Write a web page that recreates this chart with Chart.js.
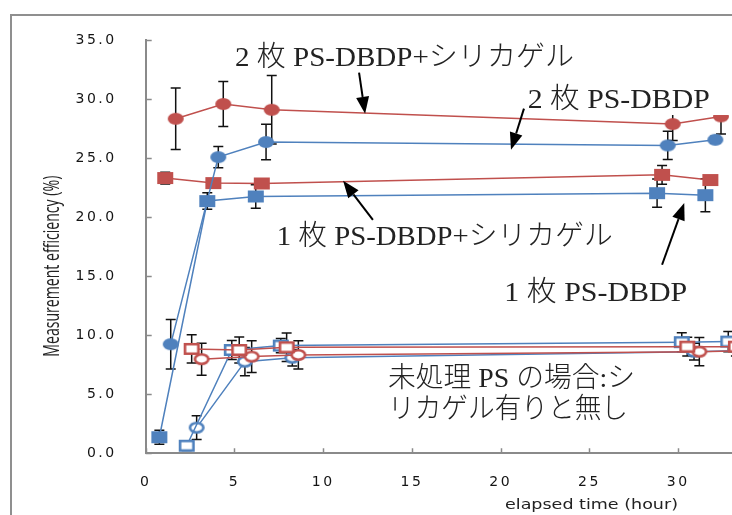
<!DOCTYPE html>
<html>
<head>
<meta charset="utf-8">
<script src="https://cdn.jsdelivr.net/npm/chart.js@4/dist/chart.umd.min.js"></script>
<style>
  html, body { margin: 0; padding: 0; background: #fff; }
  canvas { display: block; }
</style>
</head>
<body>
<canvas id="chart" width="732" height="515"></canvas>
<script>
// ---- measured values: elapsed time (hour), efficiency (%), error (±) ----
const timeTwoSilica = [1.69, 4.37, 7.10, 29.69, 32.41];
const effTwoSilica  = [28.33, 29.58, 29.09, 27.88, 28.53];
const errTwoSilica  = [2.6, 1.9, 2.9, 1.4, 1.5];

const timeTwo = [1.41, 4.09, 6.78, 29.41, 32.09];
const effTwo  = [9.24, 25.08, 26.36, 26.07, 26.55];
const errTwo  = [2.1, 0.9, 1.5, 1.2, 0.3];

const timeOneSilica = [1.10, 3.81, 6.54, 29.09, 31.81];
const effOneSilica  = [23.31, 22.88, 22.85, 23.58, 23.14];
const errOneSilica  = [0.5, 0.2, 0.3, 0.8, 0.2];

const timeOne = [0.77, 3.47, 6.20, 28.81, 31.53];
const effOne  = [1.36, 21.36, 21.75, 22.03, 21.86];
const errOne  = [0.6, 0.7, 1.0, 1.2, 1.4];

// untreated PS, with / without silica gel
const timeRawSqRed = [2.59, 5.27, 7.94, 30.51, 33.25];
const effRawSqRed  = [8.84, 8.75, 8.98, 9.03, 9.03];
const errRawSqRed  = [1.2, 1.1, 1.2, 0.8, 0.8];

const timeRawCirRed = [3.15, 5.97, 8.60, 31.19, 33.8];
const effRawCirRed  = [7.97, 8.19, 8.33, 8.61, 8.7];
const errRawCirRed  = [1.35, 1.35, 1.2, 1.2, 1.2];

const timeRawSqBlue = [2.31, 4.85, 7.61, 30.20, 32.82];
const effRawSqBlue  = [0.64, 8.75, 9.12, 9.41, 9.46];
const errRawSqBlue  = [0.4, 0.8, 0.6, 0.8, 0.85];

const timeRawCirBlue = [2.87, 5.59, 8.26, 30.89, 33.6];
const effRawCirBlue  = [2.17, 7.76, 8.10, 8.61, 8.7];
const errRawCirBlue  = [1.0, 1.2, 0.7, 0.7, 0.7];

const yTicks = [0, 5, 10, 15, 20, 25, 30, 35];
const xTicks = [0, 5, 10, 15, 20, 25, 30];

const yTitle = 'Measurement efficiency (%)';
const xTitle = 'elapsed time (hour)';

// ---- styling ----
const RED = '#C0504D';
const BLUE = '#4F81BD';
const AXIS = '#8a8a8a';
const INK = '#222';
const LABEL_FONT = "300 28px 'Liberation Serif', 'Noto Sans CJK JP'";

// callouts placed in data units; width is the rendered text width in px
const callouts = [
  { text: '2 枚 PS-DBDP+シリカゲル', x: 5.03, y: 32.76, width: 339,
    arrow: [12.02, 32.23, 12.36, 28.75] },
  { text: '2 枚 PS-DBDP', x: 21.52, y: 29.24, width: 182, box: true,
    arrow: [21.31, 29.19, 20.58, 25.71] },
  { text: '1 枚 PS-DBDP+シリカゲル', x: 7.38, y: 17.65, width: 336,
    arrow: [12.8, 19.77, 11.12, 23.08] },
  { text: '1 枚 PS-DBDP', x: 20.20, y: 12.91, width: 183,
    arrow: [29.09, 15.97, 30.34, 21.19] },
  { text: '未処理 PS の場合:シ', x: 13.65, y: 5.64, width: 247 },
  { text: 'リカゲル有りと無し', x: 13.65, y: 2.97, width: 240 }
];

function marker(shape, color, filled) {
  const w = 16, h = 12;
  const c = document.createElement('canvas');
  c.width = w + 2; c.height = h + 2;
  const g = c.getContext('2d');
  g.translate(1, 1);
  const inset = filled ? 0 : 1.3;
  g.beginPath();
  if (shape === 'circle') {
    g.ellipse(w / 2, h / 2, w / 2 - inset, h / 2 - inset, 0, 0, Math.PI * 2);
  } else {
    g.rect(inset, inset, w - 2 * inset, h - 2 * inset);
  }
  if (filled) {
    g.fillStyle = color; g.fill();
  } else {
    g.fillStyle = '#fff'; g.fill();
    g.lineWidth = 2.6; g.strokeStyle = color; g.stroke();
  }
  return c;
}

function pts(xs, ys) { return xs.map((x, i) => ({ x: x, y: ys[i] })); }

function series(label, xs, ys, errs, color, shape, filled) {
  return {
    label: label,
    data: pts(xs, ys),
    errors: errs,
    showLine: true,
    borderColor: color,
    borderWidth: 1.5,
    backgroundColor: color,
    pointStyle: marker(shape, color, filled),
    pointRadius: 8,
    pointHoverRadius: 8,
    tension: 0,
    clip: { left: 10, top: 10, right: 10, bottom: 10 }
  };
}

const datasets = [
  series('2枚 PS-DBDP+シリカゲル', timeTwoSilica, effTwoSilica, errTwoSilica, RED, 'circle', true),
  series('2枚 PS-DBDP', timeTwo, effTwo, errTwo, BLUE, 'circle', true),
  series('1枚 PS-DBDP+シリカゲル', timeOneSilica, effOneSilica, errOneSilica, RED, 'rect', true),
  series('1枚 PS-DBDP', timeOne, effOne, errOne, BLUE, 'rect', true),
  series('未処理 PS 四角 赤', timeRawSqRed, effRawSqRed, errRawSqRed, RED, 'rect', false),
  series('未処理 PS 丸 赤', timeRawCirRed, effRawCirRed, errRawCirRed, RED, 'circle', false),
  series('未処理 PS 四角 青', timeRawSqBlue, effRawSqBlue, errRawSqBlue, BLUE, 'rect', false),
  series('未処理 PS 丸 青', timeRawCirBlue, effRawCirBlue, errRawCirBlue, BLUE, 'circle', false)
];

function fitText(ctx, text, x, y, width, font, rotate) {
  ctx.save();
  ctx.letterSpacing = '0px';
  ctx.font = font;
  const w = ctx.measureText(text).width;
  ctx.translate(x, y);
  if (rotate) ctx.rotate(-Math.PI / 2);
  ctx.scale(width / w, 1);
  ctx.textAlign = 'left';
  ctx.textBaseline = 'alphabetic';
  ctx.fillStyle = INK;
  ctx.fillText(text, 0, 0);
  ctx.restore();
}

function drawArrow(ctx, x1, y1, x2, y2) {
  const a = Math.atan2(y2 - y1, x2 - x1), L = 17, H = 6.5;
  const bx = x2 - L * Math.cos(a), by = y2 - L * Math.sin(a);
  ctx.beginPath();
  ctx.moveTo(x1, y1); ctx.lineTo(bx, by);
  ctx.stroke();
  ctx.beginPath();
  ctx.moveTo(x2, y2);
  ctx.lineTo(bx + H * Math.sin(a), by - H * Math.cos(a));
  ctx.lineTo(bx - H * Math.sin(a), by + H * Math.cos(a));
  ctx.closePath();
  ctx.fill();
}

const decor = {
  id: 'decor',
  beforeDraw(chart) {
    const ctx = chart.ctx;
    ctx.save();
    ctx.fillStyle = '#fff';
    ctx.fillRect(0, 0, chart.width, chart.height);
    ctx.strokeStyle = '#8f8f8f';
    ctx.lineWidth = 2;
    ctx.strokeRect(11, 15, 900, 700);
    ctx.restore();
    // spaced-out tick labels
    ctx.letterSpacing = '2.5px';
  },
  beforeDatasetsDraw(chart) {
    const ctx = chart.ctx;
    ctx.letterSpacing = '0px';
    const xs = chart.scales.x, ys = chart.scales.y;
    const area = chart.chartArea;
    ctx.save();
    // inward tick marks
    ctx.strokeStyle = AXIS;
    ctx.lineWidth = 1.5;
    ctx.beginPath();
    ys.ticks.forEach(t => {
      const p = Math.round(ys.getPixelForValue(t.value)) + 0.5;
      ctx.moveTo(area.left, p); ctx.lineTo(area.left + 6, p);
    });
    xs.ticks.forEach(t => {
      const p = Math.round(xs.getPixelForValue(t.value)) + 0.5;
      ctx.moveTo(p, area.bottom); ctx.lineTo(p, area.bottom - 5);
    });
    ctx.stroke();
    // error bars
    ctx.strokeStyle = '#111';
    ctx.lineWidth = 1.5;
    chart.data.datasets.forEach(ds => {
      ds.data.forEach((pt, i) => {
        const e = ds.errors[i];
        const px = xs.getPixelForValue(pt.x);
        const top = ys.getPixelForValue(pt.y + e);
        const bot = ys.getPixelForValue(pt.y - e);
        ctx.beginPath();
        ctx.moveTo(px, top); ctx.lineTo(px, bot);
        ctx.moveTo(px - 5, top); ctx.lineTo(px + 5, top);
        ctx.moveTo(px - 5, bot); ctx.lineTo(px + 5, bot);
        ctx.stroke();
      });
    });
    ctx.restore();
  },
  afterDraw(chart) {
    const ctx = chart.ctx;
    const xs = chart.scales.x, ys = chart.scales.y;
    ctx.save();
    ctx.letterSpacing = '0px';
    // axis titles
    fitText(ctx, yTitle, 59, 356.7, 181, "21px 'Open Sans'", true);
    fitText(ctx, xTitle, 505, 509, 173, "14px 'DejaVu Sans'", false);
    // callouts
    ctx.strokeStyle = '#000';
    ctx.fillStyle = '#000';
    ctx.lineWidth = 2;
    callouts.forEach(c => {
      const lx = xs.getPixelForValue(c.x), ly = ys.getPixelForValue(c.y);
      if (c.box) {
        ctx.fillStyle = '#fff';
        ctx.fillRect(lx - 6, ly - 28, chart.width - lx + 6, 35);
        ctx.fillStyle = '#000';
      }
      fitText(ctx, c.text, lx, ly, c.width, LABEL_FONT, false);
      if (c.arrow) {
        const a = c.arrow;
        drawArrow(ctx,
          xs.getPixelForValue(a[0]), ys.getPixelForValue(a[1]),
          xs.getPixelForValue(a[2]), ys.getPixelForValue(a[3]));
      }
    });
    ctx.restore();
  }
};

new Chart(document.getElementById('chart'), {
  type: 'scatter',
  data: { datasets: datasets },
  options: {
    responsive: false,
    animation: false,
    events: [],
    layout: { autoPadding: false, padding: { left: 0, right: 0, top: 40, bottom: 0 } },
    plugins: { legend: { display: false }, tooltip: { enabled: false } },
    scales: {
      x: {
        type: 'linear',
        min: 0,
        max: 33.03,
        afterFit(s) { s.height = 61.7; s.paddingLeft = 0; s.paddingRight = 0; },
        afterBuildTicks(s) { s.ticks = xTicks.map(v => ({ value: v })); },
        grid: { display: false },
        border: { display: true, color: AXIS, width: 2 },
        ticks: {
          padding: 13,
          color: '#141414',
          font: { family: "'DejaVu Sans'", size: 14 },
          maxRotation: 0,
          autoSkip: false,
          callback: v => String(v)
        }
      },
      y: {
        type: 'linear',
        min: 0,
        max: 35,
        afterFit(s) { s.width = 145.7; s.paddingTop = 0; s.paddingBottom = 0; },
        afterBuildTicks(s) { s.ticks = yTicks.map(v => ({ value: v })); },
        grid: { display: false },
        border: { display: true, color: AXIS, width: 2 },
        ticks: {
          padding: 21,
          color: '#141414',
          font: { family: "'DejaVu Sans'", size: 14 },
          autoSkip: false,
          callback: v => Number(v).toFixed(1)
        }
      }
    }
  },
  plugins: [decor]
});
</script>
</body>
</html>
